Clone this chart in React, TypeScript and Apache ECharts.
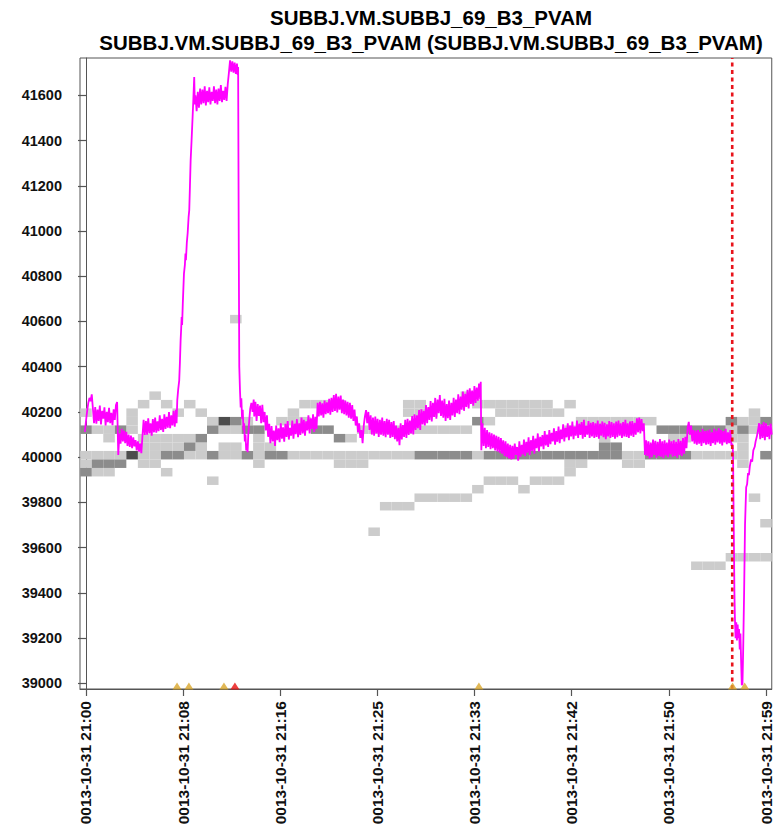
import React, { useEffect, useRef } from "react";
import * as echarts from "echarts";

const titleLines = [
  "SUBBJ.VM.SUBBJ_69_B3_PVAM",
  "SUBBJ.VM.SUBBJ_69_B3_PVAM (SUBBJ.VM.SUBBJ_69_B3_PVAM)",
];

// minutes after 21:00
const xRange = [-0.52, 59.5];
const xTickMinutes = [0, 8.43, 16.86, 25.29, 33.71, 42.14, 50.57, 59];
const xTickLabels = [
  "0013-10-31 21:00",
  "0013-10-31 21:08",
  "0013-10-31 21:16",
  "0013-10-31 21:25",
  "0013-10-31 21:33",
  "0013-10-31 21:42",
  "0013-10-31 21:50",
  "0013-10-31 21:59",
];
const yRange = [38975, 41765];
const yTickValues = [39000, 39200, 39400, 39600, 39800, 40000, 40200, 40400, 40600, 40800, 41000, 41200, 41400, 41600];

// history density cells: [minute, row]; row r spans cellRowBase + r*cellRowStep .. +cellRowStep
const cellRowBase = 39990;
const cellRowStep = 37.6;
const lightCells = [
  [0, 5], [0, 0], [0, -1],
  [1, 3], [1, 0], [1, -2],
  [2, 3], [2, 2], [2, 0], [2, -2],
  [3, 0],
  [4, 5], [4, 4], [4, 3],
  [5, 6], [5, 2], [5, 1], [5, 0], [5, -1],
  [6, 7], [6, 2], [6, 1], [6, 0], [6, -1],
  [7, 6], [7, 2], [7, 1], [7, -2],
  [8, 5], [8, 2], [8, 1],
  [9, 6], [9, 2], [9, 0],
  [10, 5], [10, 1], [10, 0],
  [11, 4], [11, -3],
  [12, 3], [12, 1], [12, 0],
  [13, 16], [13, 3], [13, 1], [13, 0],
  [14, 4],
  [15, 2], [15, 1], [15, 0], [15, -1],
  [16, 1],
  [17, 4],
  [18, 5], [18, 4], [18, 0],
  [19, 6], [19, 4], [19, 0],
  [20, 6], [20, 0],
  [21, 6], [21, 0],
  [22, 6], [22, 0], [22, -1],
  [23, 2], [23, 0], [23, -1],
  [24, 3], [24, 0], [24, -1],
  [25, 3], [25, 0], [25, -9],
  [26, 3], [26, 0], [26, -6],
  [27, 3], [27, 0], [27, -6],
  [28, 6], [28, 5], [28, 3], [28, 0], [28, -6],
  [29, 6], [29, 5], [29, 3], [29, -5],
  [30, 5], [30, 3], [30, -5],
  [31, 3], [31, -5],
  [32, 3], [32, -5],
  [33, 7], [33, 3], [33, -5],
  [34, 6], [34, 0], [34, -4],
  [35, 6], [35, 4], [35, -3],
  [36, 6], [36, 5], [36, -3],
  [37, 6], [37, 5], [37, -3],
  [38, 6], [38, 5], [38, -4],
  [39, 6], [39, 5], [39, -3],
  [40, 6], [40, 5], [40, -3],
  [41, 5], [41, -3],
  [42, 6], [42, 3], [42, -1], [42, -2],
  [43, 4], [43, 3], [43, -1],
  [44, 4],
  [45, 4], [45, 2],
  [46, 4],
  [47, 4], [47, 0], [47, -1],
  [48, 4], [48, 0], [48, -1],
  [49, 4],
  [51, 2],
  [52, 2],
  [53, 0], [53, -13],
  [54, 0], [54, -13],
  [55, 0], [55, -13],
  [56, 3], [56, 2], [56, 0], [56, -12],
  [57, 4], [57, 2], [57, 1], [57, 0], [57, -1], [57, -12],
  [58, 5], [58, 4], [58, 3], [58, -5], [58, -12],
  [59, 3], [59, -8], [59, -12],
];
const mediumCells = [
  [0, 3], [0, -2], [1, -1], [2, -1], [3, 3], [3, -1],
  [7, 0], [8, 0], [9, 1], [10, 2], [11, 3], [11, 0],
  [13, 4], [14, 3], [14, 0], [15, 3], [16, 0], [17, 0],
  [20, 3], [21, 3], [22, 2],
  [29, 0], [30, 0], [31, 0], [32, 0], [33, 0], [34, 4],
  [35, 0], [36, 0], [37, 0], [38, 0], [39, 0], [40, 0], [41, 0], [42, 0], [43, 0],
  [44, 0], [45, 0], [46, 0], [45, 1], [46, 1],
  [49, 0], [50, 0], [51, 0], [52, 0],
  [50, 3], [51, 3], [52, 3], [53, 3], [54, 3], [55, 3],
  [56, 4], [57, 3], [59, 4], [59, 0],
];
const darkCells = [[4, 0], [12, 4]];
const cellColors = ["#cccccc", "#8c8c8c", "#4d4d4d"];

// PVAM samples, one every 0.1 min (6 s)
const sampleStep = 0.1;
const pvamA = [40112, 40160, 40205, 40240, 40262, 40248, 40278, 40215, 40150, 40222, 40148, 40210, 40160, 40228, 40145, 40205, 40170, 40220, 40140, 40200, 40155, 40218, 40150, 40196, 40142, 40212, 40165, 40230, 40244];
const pvamB = [40010, 40105, 40060, 40125, 40070, 40118, 40062, 40112, 40050, 40100, 40045, 40095, 40040, 40088, 40048, 40075, 40030, 40070, 40025, 40060, 40018, 40095];
const pvamC = [40165, 40098, 40160, 40100, 40172, 40105, 40150, 40095, 40168, 40110, 40175, 40108, 40158, 40115, 40185, 40120, 40170, 40112, 40190, 40125, 40178, 40130, 40200, 40128, 40185, 40140, 40205, 40135, 40210];
const pvamRise = [[7.86, 40150], [7.92, 40252], [8.0, 40300], [8.09, 40340], [8.15, 40420], [8.21, 40517], [8.26, 40570], [8.3, 40620], [8.34, 40585], [8.4, 40680], [8.5, 40812], [8.58, 40850], [8.63, 40900], [8.67, 40871], [8.75, 40950], [8.82, 40990], [8.9, 41060], [8.96, 41092], [9.02, 41200], [9.08, 41313], [9.16, 41400], [9.25, 41504], [9.32, 41590], [9.39, 41681], [9.44, 41560]];
const pvamE = [41600, 41530, 41615, 41545, 41630, 41560, 41625, 41565, 41640, 41555, 41620, 41570, 41635, 41560, 41615, 41575, 41640, 41565, 41625, 41560, 41630, 41575, 41645, 41570, 41620, 41580, 41638, 41575, 41650, 41700, 41755, 41705, 41750, 41700, 41745, 41695, 41740];
const pvamDrop = [[13.16, 41690], [13.2, 41725], [13.25, 41000], [13.3, 40400], [13.36, 40296], [13.42, 40220], [13.48, 40260], [13.54, 40170], [13.6, 40210], [13.66, 40120], [13.72, 40150], [13.78, 40070], [13.84, 40100], [13.9, 40030], [13.96, 40060], [14.02, 40022], [14.08, 40100], [14.16, 40160], [14.25, 40215], [14.35, 40240], [14.45, 40200], [14.55, 40255]];
const pvamG = [40180, 40245, 40160, 40235, 40182, 40228, 40150, 40232, 40155, 40200,
  40118, 40185, 40090, 40148, 40062, 40138, 40070, 40118, 40050, 40140,
  40075, 40128, 40066, 40150, 40082, 40132, 40068, 40148, 40090, 40160,
  40078, 40130, 40095, 40162, 40082, 40148, 40102, 40168, 40088, 40150,
  40098, 40175, 40105, 40165, 40095, 40158, 40118, 40185, 40105, 40172,
  40125, 40190, 40112, 40178];
const pvamH = [40125, 40240, 40180, 40245, 40185, 40238, 40175, 40250, 40190, 40242,
  40195, 40258, 40188, 40262, 40200, 40275, 40205, 40280, 40198, 40268,
  40210, 40272, 40195, 40255, 40190, 40250, 40185, 40245, 40175, 40240,
  40170, 40230, 40160,
  40210, 40140, 40180, 40110, 40150, 40085, 40120,
  40062, 40140, 40180, 40208, 40150, 40200, 40120, 40185, 40100, 40175,
  40095, 40180, 40105, 40170, 40090, 40165, 40100, 40175, 40095, 40160,
  40088, 40170, 40100, 40165, 40085, 40155, 40090, 40160, 40080, 40140,
  40070, 40130, 40053];
const pvamI = [40150, 40078, 40142, 40090, 40165, 40085, 40170, 40098, 40162, 40105,
  40182, 40100, 40190, 40120, 40185, 40128, 40208, 40120, 40212, 40145,
  40205, 40140, 40230, 40150, 40222, 40165, 40248, 40158, 40240, 40178,
  40262, 40170, 40255, 40195, 40275, 40182, 40250, 40175, 40258, 40160,
  40235, 40172, 40250, 40165, 40240, 40185, 40262, 40178, 40255, 40195,
  40278, 40190, 40268, 40210, 40290, 40205, 40280, 40222, 40298, 40215,
  40305, 40235, 40295, 40228, 40315, 40240, 40308, 40250, 40325, 40255];
const pvamSpike = [[34.25, 40333], [34.3, 40031]];
const pvamJ = [40150, 40050, 40130, 40040, 40120, 40045,
  40110, 40035, 40105, 40040, 40100, 40030, 40095, 40025, 40090, 40020,
  40085, 40015, 40075, 40005, 40070, 40000, 40060, 39995, 40055, 39990,
  40050];
const pvamK = [39992, 40060, 40010, 40045, 39985, 40070, 40002, 40055, 40012, 40078,
  40005, 40068, 40020, 40088, 40010, 40075, 40028, 40095, 40015, 40082,
  40040, 40105, 40025, 40090, 40048, 40098, 40035, 40115, 40052, 40100,
  40045, 40120, 40058, 40108, 40070, 40128, 40055, 40115, 40068, 40135,
  40062, 40122, 40080, 40145, 40070, 40130, 40088, 40150, 40075, 40140,
  40092, 40158, 40080, 40135, 40095, 40162, 40085, 40148, 40098, 40155,
  40082, 40165, 40090, 40140, 40100, 40160, 40085, 40152];
const pvamL = [40092,
  40155, 40085, 40150, 40090, 40162, 40082, 40148, 40095, 40158, 40088,
  40152, 40080, 40145, 40092, 40160, 40085, 40155, 40090, 40150, 40082,
  40158, 40088, 40162, 40095, 40150, 40085, 40155, 40092, 40165, 40090,
  40150, 40085, 40158, 40095, 40160, 40090, 40152, 40100, 40172, 40110,
  40175, 40105, 40168, 40115, 40150,
  40010, 40075, 40005, 40070, 39995,
  40065, 40000, 40078, 40010, 40072, 39998, 40068, 40005, 40080, 40002,
  40070, 39995, 40075, 40008, 40065, 40000, 40078, 40012, 40070, 40002,
  40075, 40005, 40068, 39998, 40080, 40010, 40072, 40005, 40085, 40015,
  40090, 40040,
  40130, 40156, 40100, 40140, 40070, 40120, 40060,
  40118,
  40055, 40120, 40060, 40112, 40050, 40125, 40062, 40115, 40055, 40118,
  40058, 40122, 40050, 40110, 40062, 40125, 40055, 40118, 40065, 40128,
  40060, 40120, 40052, 40115, 40065, 40125, 40058, 40110, 40062, 40120,
  40050];
const pvamM = [[56.08, 40060], [56.14, 40018], [56.2, 39700], [56.26, 39400], [56.3, 39293], [56.36, 39200], [56.42, 39270], [56.48, 39190], [56.54, 39260], [56.6, 39200], [56.66, 39240], [56.72, 39150], [56.78, 39220], [56.84, 39100], [56.9, 38992], [56.96, 39000], [57.02, 39150], [57.1, 39400], [57.18, 39700], [57.28, 39867], [57.36, 39880], [57.44, 39930], [57.52, 39920], [57.59, 39957], [57.7, 39990], [57.8, 39980], [57.9, 40030], [58.02, 40046], [58.1, 40070], [58.2, 40090], [58.31, 40119]];
const pvamN = [40150, 40080, 40145, 40085, 40155, 40075, 40150, 40090, 40140, 40080, 40148, 40100];

// event markers
const eventMinutes = [7.9, 8.93, 11.97, 12.92, 34.09, 56.1, 57.15];
const eventColors = ["#d9a62c", "#d9a62c", "#d9a62c", "#e8100f", "#d9a62c", "#d9a62c", "#d9a62c"];
const eventLevel = 38988;
const alarmMinute = 56.07;

function sampled(start: number, values: number[]): number[][] {
  return values.map((v, i) => [Math.round((start + i * sampleStep) * 100) / 100, v]);
}

export default function App() {
  const ref = useRef<HTMLDivElement>(null);
  useEffect(() => {
    if (!ref.current) return;
    const chart = echarts.init(ref.current, undefined, { renderer: "svg" });
    const pvam = [
      ...sampled(-0.1, pvamA),
      ...sampled(2.8, pvamB),
      ...sampled(5.0, pvamC),
      ...pvamRise,
      ...sampled(9.5, pvamE),
      ...pvamDrop,
      ...sampled(14.6, pvamG),
      ...sampled(20.0, pvamH),
      ...sampled(27.3, pvamI),
      ...pvamSpike,
      ...sampled(34.4, pvamJ),
      ...sampled(37.1, pvamK),
      ...sampled(43.9, pvamL),
      ...pvamM,
      ...sampled(58.4, pvamN),
    ];
    const cells = [
      ...lightCells.map((c) => [c[0], cellRowBase + c[1] * cellRowStep, 0]),
      ...mediumCells.map((c) => [c[0], cellRowBase + c[1] * cellRowStep, 1]),
      ...darkCells.map((c) => [c[0], cellRowBase + c[1] * cellRowStep, 2]),
    ];
    const font = "Liberation Sans";
    chart.setOption({
      animation: false,
      backgroundColor: "#ffffff",
      grid: { left: 80, top: 58, right: 2, bottom: 146, show: true, borderColor: "#555", borderWidth: 1, backgroundColor: "transparent" },
      graphic: [
        { type: "text", x: 431, y: 17, style: { text: titleLines[0], font: `bold 20.5px "${font}"`, fill: "#000", textAlign: "center", textVerticalAlign: "middle" } },
        { type: "text", x: 431, y: 42, style: { text: titleLines[1], font: `bold 20.5px "${font}"`, fill: "#000", textAlign: "center", textVerticalAlign: "middle" } },
      ],
      xAxis: {
        type: "value",
        min: xRange[0],
        max: xRange[1],
        splitLine: { show: false },
        axisLine: { show: true, lineStyle: { color: "#555", width: 1 } },
        axisTick: { show: true, customValues: xTickMinutes, length: 7, lineStyle: { color: "#555", width: 1.2 } },
        axisLabel: {
          customValues: xTickMinutes,
          rotate: 90,
          margin: 12,
          fontFamily: font,
          fontWeight: "bold",
          fontSize: 15.5,
          color: "#111",
          formatter: (v: number) => {
            let best = 0;
            for (let i = 1; i < xTickMinutes.length; i++) {
              if (Math.abs(xTickMinutes[i] - v) < Math.abs(xTickMinutes[best] - v)) best = i;
            }
            return xTickLabels[best];
          },
        },
      },
      yAxis: {
        type: "value",
        min: yRange[0],
        max: yRange[1],
        splitLine: { show: false },
        axisLine: { show: true, lineStyle: { color: "#555", width: 1 } },
        axisTick: { show: true, customValues: yTickValues, length: 8, lineStyle: { color: "#555", width: 1.2 } },
        axisLabel: {
          customValues: yTickValues,
          margin: 18,
          fontFamily: font,
          fontWeight: "bold",
          fontSize: 14.5,
          color: "#111",
          formatter: (v: number) => String(v),
        },
      },
      series: [
        {
          type: "custom",
          name: "history",
          silent: true,
          clip: true,
          z: 1,
          encode: { x: 0, y: 1 },
          data: cells,
          renderItem: (params: any, api: any) => {
            const m = api.value(0);
            const y0 = api.value(1);
            const lvl = api.value(2);
            const p0 = api.coord([m - 0.5, y0 + cellRowStep]);
            const p1 = api.coord([m + 0.5, y0]);
            return {
              type: "rect",
              shape: { x: p0[0], y: p0[1], width: p1[0] - p0[0], height: p1[1] - p0[1] },
              style: { fill: cellColors[lvl], stroke: null },
            };
          },
        },
        {
          type: "line",
          name: "PVAM",
          data: pvam,
          showSymbol: false,
          silent: true,
          clip: true,
          z: 3,
          lineStyle: { color: "#ff00ff", width: 1.8 },
        },
        {
          type: "line",
          name: "alarm",
          data: [[alarmMinute, yRange[0]], [alarmMinute, yRange[1]]],
          showSymbol: false,
          silent: true,
          z: 4,
          lineStyle: { color: "#e8141c", width: 2.6, type: [4, 3.5] },
        },
        {
          type: "scatter",
          name: "events",
          symbol: "triangle",
          symbolSize: [9, 7],
          clip: false,
          silent: true,
          z: 5,
          data: eventMinutes.map((m, i) => ({ value: [m, eventLevel], itemStyle: { color: eventColors[i] } })),
        },
      ],
    });
    return () => chart.dispose();
  }, []);
  return <div ref={ref} style={{ position: "fixed", left: 0, top: 0, width: 774, height: 835, background: "#fff" }} />;
}
